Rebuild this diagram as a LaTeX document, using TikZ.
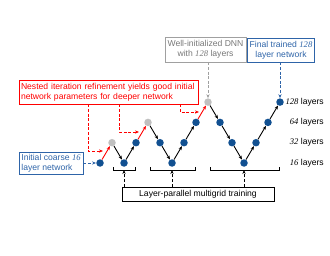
\documentclass[tikz,border=0pt]{standalone}
\usepackage{fontspec}
\setmainfont{Liberation Sans}
\newfontfamily\numfont{Liberation Serif}
\usetikzlibrary{arrows.meta}
\definecolor{nodeblue}{RGB}{17,80,145}
\definecolor{boxblue}{RGB}{46,100,168}
\definecolor{nodegray}{RGB}{192,192,192}
\definecolor{boxgray}{RGB}{160,160,160}
\definecolor{textgray}{RGB}{120,120,120}
\newcommand{\lnum}[1]{{\numfont\itshape #1}}
\tikzset{
  lyr/.style={circle,inner sep=0pt,minimum size=7.5pt},
  fwd/.style={-{Stealth[length=4pt,width=3.2pt]},line width=.9pt},
  hint/.style={-{Stealth[length=4pt,width=3.2pt]},line width=.9pt,dash pattern=on 3pt off 1.6pt},
  note/.style={draw,line width=.8pt,inner sep=2pt,font=\fontsize{8.6}{10}\selectfont},
  lbl/.style={anchor=east,inner sep=0pt,font=\fontsize{8.6}{10}\selectfont}
}
\begin{document}
\begin{tikzpicture}[x=1pt,y=1pt]
  \useasboundingbox (0,0) rectangle (330,255);
  % V-cycle of layer levels
  \foreach \i/\l/\col in {0/0/nodeblue,1/1/nodegray,2/0/nodeblue,3/1/nodeblue,4/2/nodegray,
      5/1/nodeblue,6/0/nodeblue,7/1/nodeblue,8/2/nodeblue,9/3/nodegray,10/2/nodeblue,
      11/1/nodeblue,12/0/nodeblue,13/1/nodeblue,14/2/nodeblue,15/3/nodeblue}
    \node[lyr,fill=\col] (v\i) at (100+12*\i,92+20.3*\l) {};
  \foreach \i/\j/\col in {0/1/red,1/2/black,2/3/black,3/4/red,4/5/black,5/6/black,6/7/black,
      7/8/black,8/9/red,9/10/black,10/11/black,11/12/black,12/13/black,13/14/black,14/15/black}
    \draw[fwd,draw=\col] (v\i) -- (v\j);

  % level labels
  \node[lbl] (l128) at (324,153) {\lnum{128} layers};
  \node[lbl] (l64) at (324,132.5) {\lnum{64} layers};
  \node[lbl] (l32) at (324,112.3) {\lnum{32} layers};
  \node[lbl] (l16) at (324,92) {\lnum{16} layers};

  % notes
  \node[note,draw=red,text=red,text width=175pt,minimum height=24pt,align=left] (nest) at (108.5,163)
    {Nested iteration refinement yields good initial\\network parameters for deeper network};
  \node[note,draw=boxblue,text=boxblue,minimum width=64pt,minimum height=22pt,align=left] (init) at (51,92)
    {Initial coarse \lnum{16}\\layer network};
  \node[note,draw=boxgray,text=textgray,minimum width=81pt,minimum height=25pt,align=center] (wdnn) at (205.5,205.5)
    {Well-initialized DNN\\with \lnum{128} layers};
  \node[note,draw=boxblue,text=boxblue,minimum width=60pt,minimum height=24pt,align=center] (fin) at (281,205)
    {Final trained \lnum{128}\\layer network};
  \node[note,draw=black,minimum width=152pt,minimum height=14pt,inner sep=1pt] (lp) at (198,61)
    {Layer-parallel multigrid training};

  \draw[hint,draw=boxblue] (init.east |- v0) -- (v0);
  \draw[hint,draw=boxgray] (wdnn.south -| v9) -- (v9);
  \draw[hint,draw=boxblue] (fin.south -| v15) -- (v15);

  \coordinate (r1) at (103,104);
  \coordinate (r2) at (139,123);
  \coordinate (r3) at (199,143);
  \draw[hint,draw=red] (nest.south -| 88,0) |- (r1);
  \draw[hint,draw=red] (nest.south -| 119,0) |- (r2);
  \draw[hint,draw=red] (nest.south -| 180,0) |- (r3);

  % coarse-grid brackets
  \coordinate (b1) at (124,85);
  \coordinate (b2) at (172,85);
  \coordinate (b3) at (244,85);
  \draw[line width=.8pt] (113,88) |- (135,85) -- (135,88);
  \draw[line width=.8pt] (150,88) |- (195,85) -- (195,88);
  \draw[line width=.8pt] (210,88) |- (279,85) -- (279,88);
  \foreach \b in {b1,b2,b3}
    \draw[hint] (lp.north -| \b) -- (\b);
\end{tikzpicture}
\end{document}
